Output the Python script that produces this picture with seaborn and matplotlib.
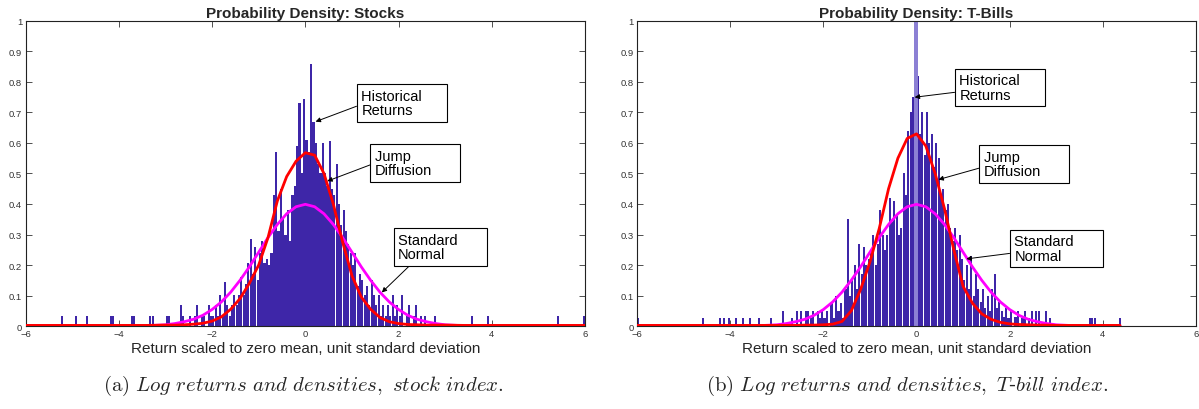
import numpy as np
import pandas as pd
import matplotlib
matplotlib.use("Agg")
import matplotlib.pyplot as plt
import seaborn as sns

# ---------------- data ----------------
# core histogram bins: width 0.05 from -2.5 to 2.5 (100 bins)
core_start = -2.5
bin_w = 0.05
stock_core = [
    0.034, 0, 0.034, 0.069, 0, 0.034, 0.034, 0, 0.069, 0.034,
    0.034, 0.069, 0.034, 0.103, 0.034, 0.143, 0.069, 0.034, 0.069, 0.103,
    0.069, 0.103, 0.160, 0.103, 0.137, 0.206, 0.285, 0.172, 0.260, 0.150,
    0.240, 0.280, 0.206, 0.220, 0.200, 0.240, 0.430, 0.570, 0.310, 0.450,
    0.350, 0.300, 0.380, 0.280, 0.430, 0.460, 0.590, 0.730, 0.500, 0.745,
    0.610, 0.570, 0.860, 0.670, 0.600, 0.530, 0.500, 0.600, 0.500, 0.460,
    0.605, 0.450, 0.430, 0.530, 0.400, 0.330, 0.380, 0.310, 0.270, 0.240,
    0.200, 0.240, 0.130, 0.170, 0.150, 0.103, 0.130, 0.069, 0.150, 0.103,
    0.069, 0.103, 0.034, 0.069, 0.034, 0.069, 0.034, 0.103, 0.034, 0.069,
    0.034, 0.103, 0, 0.034, 0.069, 0, 0.034, 0.069, 0, 0.034,
]
stock_out_x = [-5.22, -4.93, -4.70, -4.20, -4.15, -3.72, -3.68, -3.35, -3.26,
               -2.97, -2.92, -2.70, -2.62, 2.59, 2.75, 3.55, 3.92, 5.42, 5.96]
stock_out_h = [0.034, 0.034, 0.034, 0.034, 0.034, 0.034, 0.034, 0.034, 0.034,
               0.034, 0.034, 0.069, 0.034, 0.034, 0.034, 0.034, 0.034, 0.034, 0.034]

tbill_core = [
    0.05, 0, 0.05, 0.05, 0.025, 0.05, 0, 0.05, 0.025, 0.05,
    0.025, 0.05, 0, 0.075, 0.025, 0.10, 0.05, 0.075, 0.025, 0.12,
    0.35, 0.10, 0.15, 0.20, 0.12, 0.27, 0.17, 0.26, 0.20, 0.22,
    0.24, 0.30, 0.20, 0.27, 0.38, 0.30, 0.25, 0.30, 0.42, 0.34,
    0.41, 0.36, 0.30, 0.32, 0.50, 0.43, 0.64, 0.70, 0.75, 0.70,
    0.82, 0.63, 0.70, 0.56, 0.70, 0.60, 0.63, 0.52, 0.60, 0.55,
    0.43, 0.45, 0.38, 0.40, 0.32, 0.28, 0.32, 0.25, 0.30, 0.22,
    0.15, 0.20, 0.12, 0.23, 0.10, 0.17, 0.12, 0.08, 0.12, 0.06,
    0.10, 0.05, 0.12, 0.17, 0.06, 0.08, 0.05, 0.03, 0.06, 0.025,
    0.05, 0, 0.03, 0.05, 0, 0.025, 0.05, 0, 0.025, 0.05,
]
tbill_out_x = [-5.97, -4.56, -4.23, -4.14, -4.02, -3.86, -3.73, -3.60, -3.40,
               -3.15, -2.86, -2.70, -2.60, 2.55, 2.62, 2.78, 2.88, 3.70, 3.75,
               3.82, 4.37]
tbill_out_h = [0.025, 0.025, 0.025, 0.025, 0.025, 0.025, 0.025, 0.025, 0.025,
               0.025, 0.05, 0.025, 0.05, 0.05, 0.05, 0.05, 0.025, 0.025, 0.025,
               0.025, 0.025]
tbill_spike_x = [-0.01]
tbill_spike_h = [1.2]

# density curves
curve_x = [-6, -5, -4, -3.4, -3.0, -2.8, -2.6, -2.4, -2.2, -2.0, -1.8, -1.6,
           -1.4, -1.2, -1.0, -0.8, -0.6, -0.4, -0.2, 0.0, 0.2, 0.4, 0.6, 0.8,
           1.0, 1.2, 1.4, 1.6, 1.8, 2.0, 2.2, 2.4, 2.6, 2.8, 3.0, 3.4, 4, 5, 6]
normal_y = [0, 0, 0.0001, 0.001, 0.004, 0.008, 0.014, 0.022, 0.035, 0.054,
            0.079, 0.111, 0.150, 0.194, 0.242, 0.290, 0.333, 0.368, 0.391,
            0.399, 0.391, 0.368, 0.333, 0.290, 0.242, 0.194, 0.150, 0.111,
            0.079, 0.054, 0.035, 0.022, 0.014, 0.008, 0.004, 0.001, 0.0001, 0, 0]
stock_jd_y = [0.002, 0.002, 0.002, 0.002, 0.003, 0.003, 0.004, 0.006, 0.009,
              0.016, 0.030, 0.055, 0.090, 0.140, 0.200, 0.290, 0.410, 0.490,
              0.540, 0.568, 0.560, 0.500, 0.400, 0.275, 0.165, 0.095, 0.055,
              0.028, 0.014, 0.008, 0.005, 0.004, 0.003, 0.003, 0.003, 0.002,
              0.002, 0.002, 0.002]
tbill_x_max = 4.37
tbill_jd_y = [0.002, 0.002, 0.002, 0.002, 0.002, 0.002, 0.002, 0.003, 0.003,
              0.004, 0.006, 0.015, 0.050, 0.120, 0.210, 0.320, 0.450, 0.550,
              0.615, 0.630, 0.590, 0.500, 0.385, 0.250, 0.130, 0.075, 0.040,
              0.022, 0.012, 0.007, 0.005, 0.004, 0.003, 0.003, 0.002, 0.002,
              0.002, 0.002, 0.002]

titles = ["Probability Density: Stocks", "Probability Density: T-Bills"]
xlabel = "Return scaled to zero mean, unit standard deviation"
captions = [r"$\mathrm{(a)}\ \mathit{Log\ returns\ and\ densities,\ stock\ index.}$",
            r"$\mathrm{(b)}\ \mathit{Log\ returns\ and\ densities,\ T}$-$\mathit{bill\ index.}$"]
ann_labels = ["Historical\nReturns", "Jump\nDiffusion", "Standard\nNormal"]
ann_stock = {"tips": [(0.22, 0.67), (0.47, 0.475), (1.64, 0.11)],
             "texts": [(1.20, 0.731), (1.49, 0.534), (1.99, 0.259)],
             "relpos": [(0, 0.45), (0, 0.5), (0.19, 0)]}
ann_tbill = {"tips": [(-0.04, 0.75), (0.47, 0.48), (1.07, 0.22)],
             "texts": [(0.92, 0.782), (1.44, 0.531), (2.10, 0.254)],
             "relpos": [(0, 0.35), (0, 0.4), (0, 0.35)]}
# MATLAB text boxes are wider than their text: trailing no-break spaces per box
box_pad_spaces = [5, 11, 6]

# ---------------- style ----------------
sns.set_theme(style="ticks")
plt.rcParams["font.family"] = ["Liberation Sans", "DejaVu Sans"]
plt.rcParams["mathtext.fontset"] = "cm"

BAR = "#3E26A8"
SPIKE = "#8C80D4"
RED = "#FF0000"
MAG = "#FF00FF"

fig = plt.figure(figsize=(11.99, 4.10), dpi=100)
axL = fig.add_axes([0.0213, 0.2024, 0.4667, 0.744])
axR = fig.add_axes([0.5313, 0.2024, 0.4662, 0.744])

edges = [round(-6.0 + bin_w * i, 4) for i in range(241)]
core_centers = [round(core_start + bin_w / 2 + bin_w * i, 4) for i in range(len(stock_core))]


def draw(ax, core, out_x, out_h, jd_y, xmax, title, ann):
    df = pd.DataFrame({"x": core_centers + out_x, "w": core + out_h})
    sns.histplot(data=df, x="x", weights="w", bins=edges, stat="count",
                 color=BAR, alpha=1, edgecolor="none", linewidth=0,
                 shrink=0.88, ax=ax)
    cx = [v for v in curve_x if v <= xmax]
    n = len(cx)
    if xmax < 6:
        cx = cx + [xmax]
        ny = normal_y[:n] + [0.0]
        jy = jd_y[:n] + [0.002]
    else:
        ny = normal_y
        jy = jd_y
    sns.lineplot(x=cx, y=ny, color=MAG, linewidth=2.0, sort=False,
                 errorbar=None, ax=ax)
    sns.lineplot(x=cx, y=jy, color=RED, linewidth=2.0, sort=False,
                 errorbar=None, ax=ax)
    ax.set_xlim(-6, 6)
    ax.set_ylim(0, 1)
    ax.set_xticks(range(-6, 7, 2))
    yt = [i / 10 for i in range(11)]
    ax.set_yticks(yt)
    ax.set_yticklabels(["0"] + [f"{v:.1f}" for v in yt[1:-1]] + ["1"])
    ax.tick_params(direction="in", length=4, width=0.6, labelsize=6.8,
                   top=True, right=True, labelcolor="#333333", color="#333333",
                   pad=2.5)
    for s in ax.spines.values():
        s.set_visible(True)
        s.set_linewidth(0.8)
        s.set_color("#222222")
    ax.set_ylabel("")
    ax.set_title(title, fontsize=11, fontweight="bold", pad=3)
    for lab, tip, txt, rp, nsp in zip(ann_labels, ann["tips"], ann["texts"],
                                      ann["relpos"], box_pad_spaces):
        lines = lab.split("\n")
        padded = lines[0] + "\u00a0" * nsp + "\n" + lines[1]
        ax.annotate(padded, xy=tip, xytext=txt, ha="left", va="center",
                    fontsize=10.5, linespacing=1.05, color="black",
                    zorder=5,
                    bbox=dict(boxstyle="square,pad=0.3", fc="white",
                              ec="black", lw=0.8),
                    arrowprops=dict(arrowstyle="-|>", color="black",
                                    lw=0.7, mutation_scale=7, relpos=rp,
                                    shrinkA=0, shrinkB=0))


draw(axL, stock_core, stock_out_x, stock_out_h, stock_jd_y, 6, titles[0], ann_stock)
draw(axR, tbill_core, tbill_out_x, tbill_out_h, tbill_jd_y, tbill_x_max, titles[1], ann_tbill)

# T-bill spike at zero (lighter bar, clipped at top)
spike_df = pd.DataFrame({"x": tbill_spike_x, "w": tbill_spike_h})
sns.histplot(data=spike_df, x="x", weights="w", bins=[-0.045, 0.025],
             stat="count", color=SPIKE, alpha=1, edgecolor="none",
             linewidth=0, shrink=1.0, ax=axR)
axR.set_ylim(0, 1)
axR.set_ylabel("")
for ax in (axL, axR):
    ax.set_xlabel(xlabel, fontsize=11, labelpad=2)
    for ln in ax.lines:
        ln.set_zorder(3)

fig.text(303 / 1199, 1 - 386 / 410, captions[0], ha="center", va="center",
         fontsize=15)
fig.text(907 / 1199, 1 - 386 / 410, captions[1], ha="center", va="center",
         fontsize=15)

fig.savefig("out.png", dpi=100, facecolor="white")
